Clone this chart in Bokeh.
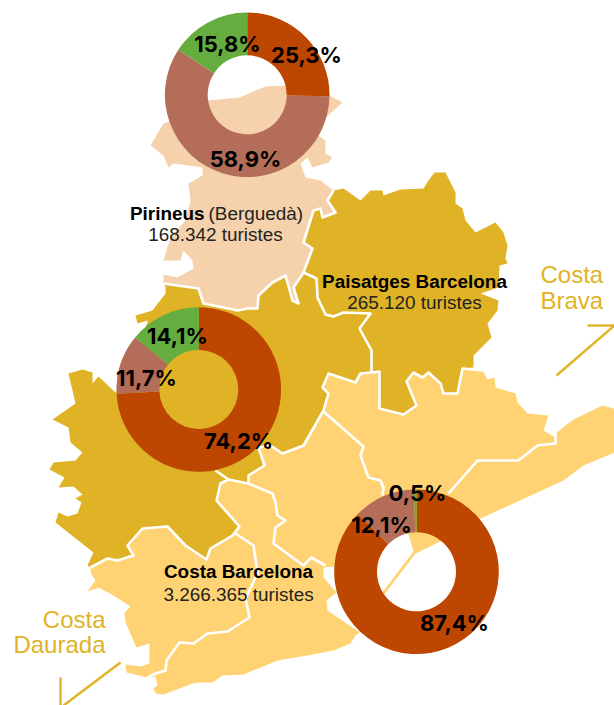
from bokeh.plotting import figure
from bokeh.embed import file_html
from bokeh.resources import INLINE
from bokeh.core.properties import value
import numpy as np

# ---- shared borders of the map regions
PIR_SOUTH = [(163,283),(198,288),(203,303),(223,307),(237,310),(247,308),(257,308),(258,295),(272,282),(285,275),(292,300),(298,303),(293,287),(303,272)]
PIR_EAST = [(303,272),(312,248),(303,242),(313,210),(320,208),(322,217),(335,212),(327,200),(333,190)]
PAIS_INNER = [(303,272),(316,278),(317,297),(325,314),(333,316),(343,312),(370,313),(359,328),(371,350),(371,372)]
DARK_EDGE_W = [(90,567),(107,558),(117,560),(133,555),(127,545),(142,528),(167,526),(185,545),(206,559),(210,548),(232,535),(239,526),(216,500),(220,483),(228,479),(248,483),(248,475),(264,465),(258,447),(270,445),(282,453),(303,445),(323,410),(328,393),(322,387),(328,373),(355,382),(360,373),(371,372)]
DARK_EDGE_E = [(371,372),(379,371),(379,408),(403,414),(416,405),(406,381),(413,372),(422,377),(428,372),(440,383),(443,393),(457,393),(462,368),(482,370)]

PIR_COAST = [(207,100),(239,97),(265,86),(286,85),(329,95),(342,102),(322,120),(318,135),(325,140),(325,153),(332,157),(328,162),(312,167),(307,157),(300,163),(305,177),(320,180),(333,190)]
PIR_COAST_W = [(163,283),(163,274),(177,277),(193,268),(192,260),(183,250),(180,260),(163,260),(170,237),(185,220),(190,200),(188,183),(202,175),(202,167),(195,166),(173,163),(168,167),(163,155),(150,145),(163,123),(172,120),(190,110)]
PAIS_COAST = [(333,190),(343,188),(360,200),(370,190),(382,190),(383,195),(400,189),(423,188),(428,180),(434,172),(445,172),(455,192),(455,203),(462,208),(465,220),(475,232),(495,222),(503,232),(507,245),(505,258),(507,263),(499,265),(498,287),(480,293),(498,300),(497,310),(487,323),(491,337),(473,355),(473,367),(462,368)]
WEST_COAST = [(90,567),(87,565),(93,552),(55,522),(58,512),(67,516),(77,513),(81,502),(75,498),(82,494),(73,486),(58,487),(64,477),(49,469),(53,462),(75,460),(82,452),(70,442),(68,427),(52,419),(75,403),(68,373),(82,369),(92,372),(92,383),(98,376),(115,392),(125,380),(135,350),(147,322),(147,320),(137,323),(135,315),(152,310),(165,293),(165,286)]
YELLOW_NE = [(482,370),(487,379),(494,377),(495,387),(515,393),(517,402),(527,413),(548,415),(543,430),(555,437),(555,433),(573,419),(602,405),(614,408),(614,452),(583,465),(563,480),(480,518),(442,540),(415,553),(383,595),(358,633),(355,635),(350,643),(333,650),(307,655),(277,660),(243,674),(222,675),(212,682),(200,682),(192,683),(163,694),(155,693),(153,688),(157,685),(155,676),(147,677),(126,672),(125,664),(140,666),(149,663),(149,643),(136,647),(125,622),(124,612),(130,606),(113,595),(98,587),(87,591),(95,580),(90,572)]
BAY = [(381,593),(413,551),(408,534),(395,528),(350,550),(334,566),(323,567),(323,577),(336,592),(326,600),(327,610),(358,631),(375,612)]

SEP_1 = [(235,533),(253,545),(257,573),(245,598),(249,617),(227,631),(207,633),(193,643),(179,642),(166,660),(165,670),(155,673),(147,677)]
SEP_2 = [(248,483),(272,493),(275,502),(277,515),(285,520),(275,527),(273,543),(303,565),(311,557),(325,565)]
SEP_3 = [(323,411),(363,446),(360,455),(368,477),(380,480),(383,487),(382,495)]
SEP_4 = [(448,493),(477,460),(518,460),(537,445),(555,443),(555,433)]
SEP_5 = [(215,470),(228,479)]

# ---- donuts
DONUT_NAMES = ["Pirineus", "Paisatges Barcelona", "Costa Barcelona"]
SHARE_HIGH = [25.3, 74.2, 87.4]
SHARE_MID = [58.9, 11.7, 12.1]
SHARE_LOW = [15.8, 14.1, 0.5]
DONUT_X = [246.7, 198.3, 416]
DONUT_Y = [94.3, 389, 571.3]
COL_HIGH, COL_MID, COL_LOW = "#BD4700", "#B46D59", "#64AD3E"
DARK, YEL, PIR = "#E0B326", "#FFD373", "#F5D2AC"

PCT_TEXT = ["25,3%", "58,9%", "15,8%", "74,2%", "11,7%", "14,1%", "87,4%", "12,1%", "0,5%"]
PCT_X = [306, 245, 227, 238, 146, 177, 454, 381, 417]
PCT_Y = [54, 158, 43, 440, 377, 335, 622, 524, 492]

p = figure(width=614, height=705, x_range=(0, 614), y_range=(705, 0), toolbar_location=None,
           output_backend="svg", min_border=0, outline_line_color=None, x_axis_type=None, y_axis_type=None)
p.xgrid.visible = False
p.ygrid.visible = False

def xy(pts):
    return [q[0] for q in pts], [q[1] for q in pts]

pir = PIR_COAST + PIR_EAST[::-1] + PIR_SOUTH[::-1] + PIR_COAST_W
dark = PIR_SOUTH + PIR_EAST[1:] + PAIS_COAST[1:] + DARK_EDGE_E[::-1] + DARK_EDGE_W[::-1] + WEST_COAST
yellow = DARK_EDGE_W + DARK_EDGE_E[1:] + YELLOW_NE
for pts, c in [(pir, PIR), (dark, DARK), (yellow, YEL), (BAY, "white")]:
    xs, ys = xy(pts)
    p.patch(xs, ys, fill_color=c, line_color=None)

seps = [PIR_SOUTH, PIR_EAST, PAIS_INNER, DARK_EDGE_W, DARK_EDGE_E, SEP_1, SEP_2, SEP_3, SEP_4, SEP_5]
p.multi_line([xy(s)[0] for s in seps], [xy(s)[1] for s in seps], line_color="white", line_width=2.6,
             line_join="round")

# leader lines
LEADERS = [[(587,325),(614,325)], [(614,325),(556,375)], [(60,677),(60,705)], [(63,705),(120,662)]]
p.multi_line([xy(s)[0] for s in LEADERS], [xy(s)[1] for s in LEADERS], line_color=DARK, line_width=2.4)

# donuts: clockwise from 12 o'clock
for i in range(3):
    vals = np.array([SHARE_HIGH[i], SHARE_MID[i], SHARE_LOW[i]])
    ends = np.cumsum(vals) / vals.sum() * 2 * np.pi
    starts = np.r_[0, ends[:-1]]
    p.annular_wedge(x=DONUT_X[i], y=DONUT_Y[i], inner_radius=39.5, outer_radius=82.3,
                    start_angle=np.pi/2 - ends, end_angle=np.pi/2 - starts,
                    fill_color=[COL_HIGH, COL_MID, COL_LOW], line_color=None)

p.text(PCT_X, PCT_Y, text=PCT_TEXT, text_font=value("Inter"), text_font_style="bold",
       text_font_size="22px", text_align="center", text_baseline="middle", text_color="black")

F = value("Liberation Sans")
BOLD_T, BOLD_X, BOLD_Y, BOLD_A = ["Pirineus", "Paisatges Barcelona", "Costa Barcelona"], [204, 414, 238], [213, 281, 571], ["right", "center", "center"]
for t, x, y, a in zip(BOLD_T, BOLD_X, BOLD_Y, BOLD_A):
    p.text([x], [y], text=[t], text_font=F, text_font_style="bold", text_font_size="18.9px",
           text_align=a, text_baseline="middle", text_color="black")
REG_T, REG_X, REG_Y, REG_A = ["(Berguedà)", "168.342 turistes", "265.120 turistes", "3.266.365 turistes"], [208, 215, 414, 238], [213, 234, 302, 594], ["left", "center", "center", "center"]
for t, x, y, a in zip(REG_T, REG_X, REG_Y, REG_A):
    p.text([x], [y], text=[t], text_font=F, text_font_size="18.9px",
           text_align=a, text_baseline="middle", text_color="#222222")

COST_T, COST_X, COST_Y, COST_A = ["Costa", "Brava", "Costa", "Daurada"], [540, 540, 105, 105], [274, 300, 619, 644], ["left", "left", "right", "right"]
for t, x, y, a in zip(COST_T, COST_X, COST_Y, COST_A):
    p.text([x], [y], text=[t], text_font=F, text_font_size="24px",
           text_align=a, text_baseline="middle", text_color=DARK)

open("out.html", "w").write(file_html(p, INLINE))
